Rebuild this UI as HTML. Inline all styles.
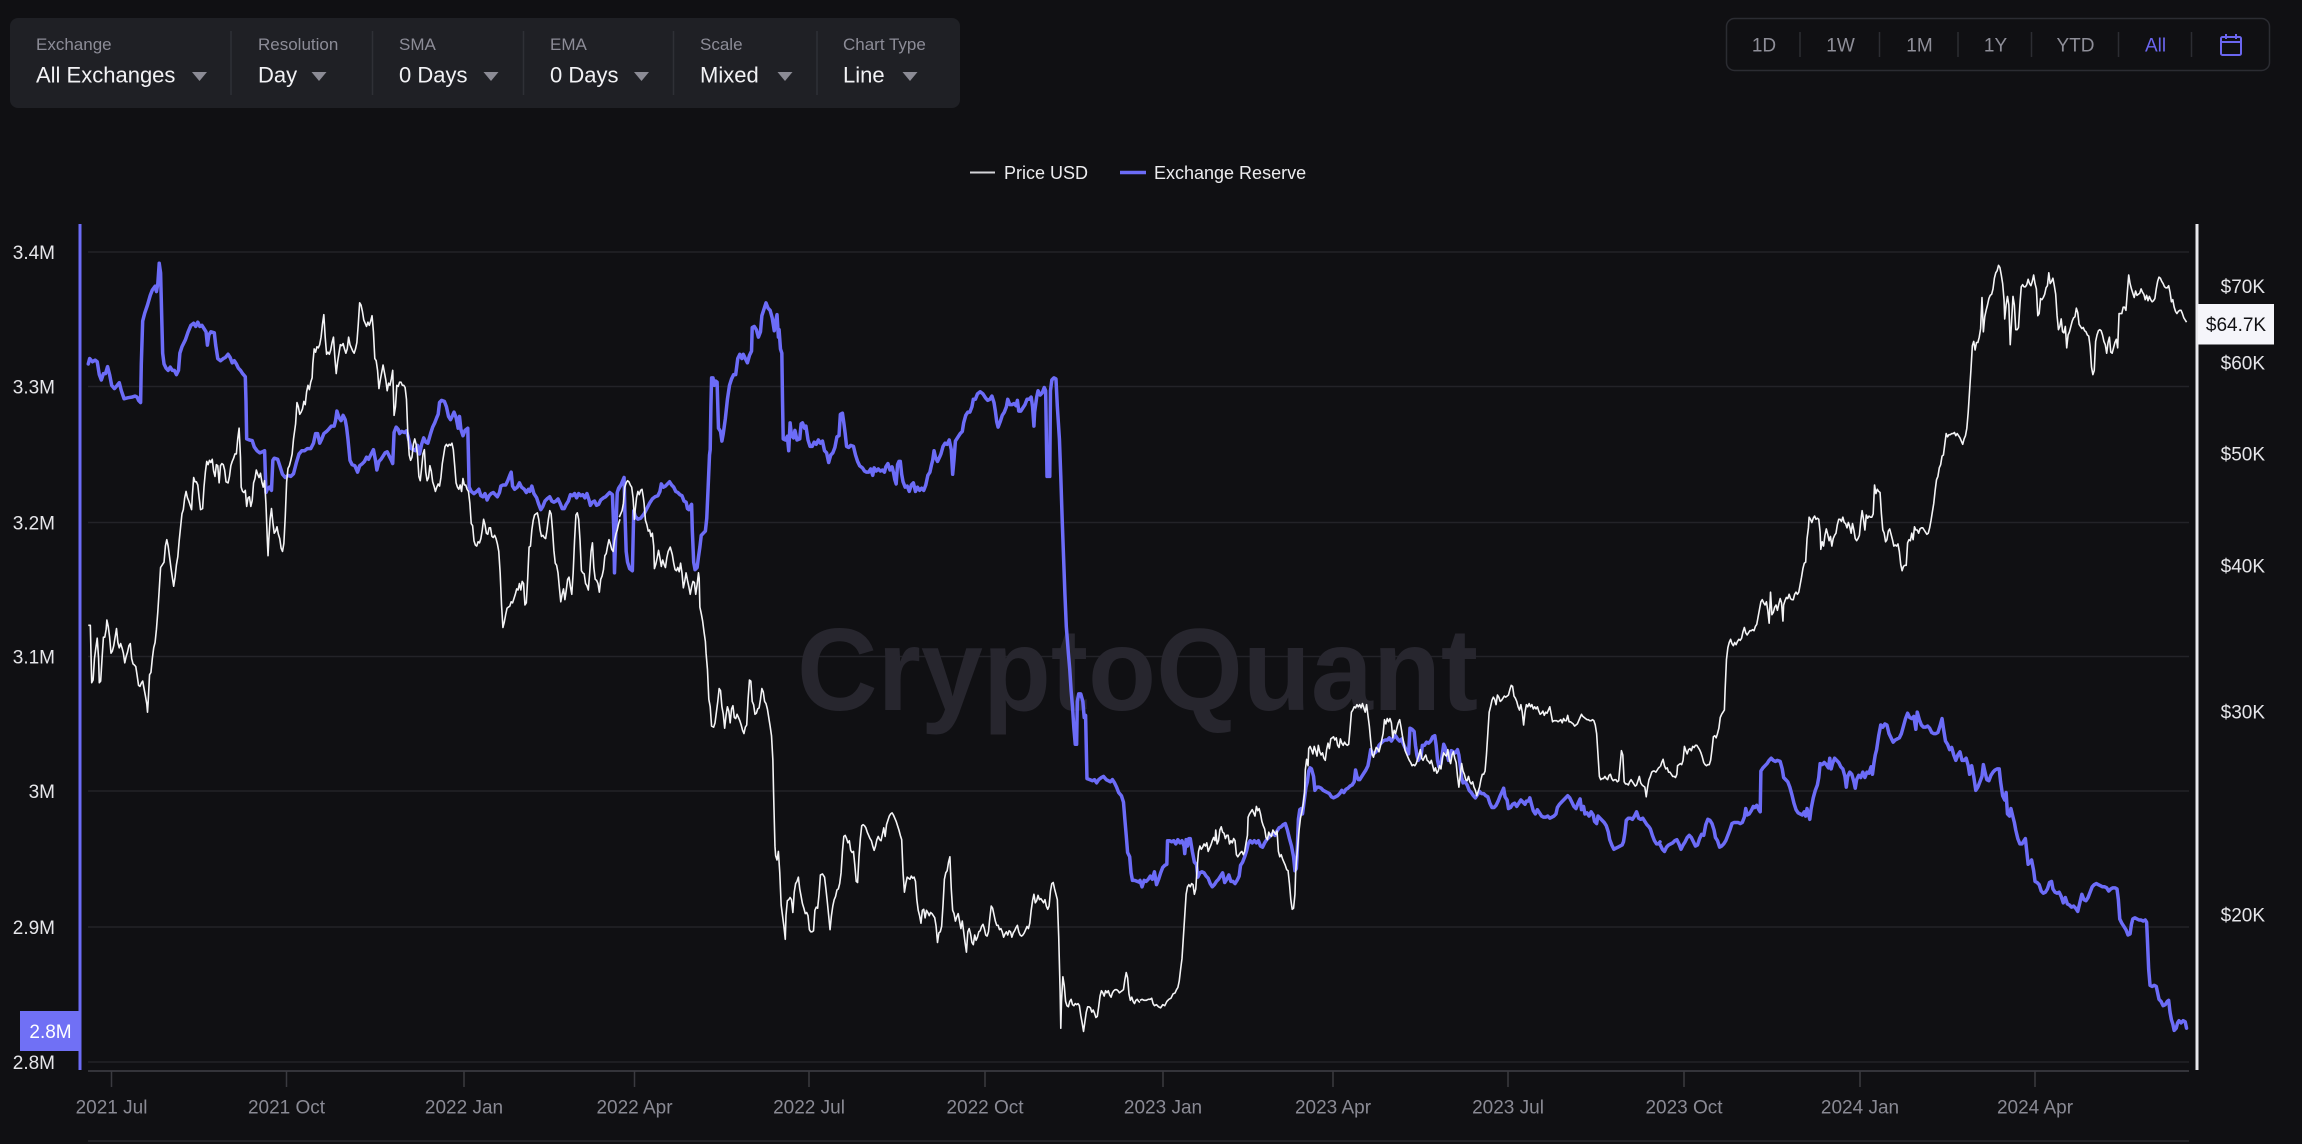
<!DOCTYPE html>
<html>
<head>
<meta charset="utf-8">
<style>
html,body{margin:0;padding:0;background:#101013;}
body{width:2302px;height:1144px;overflow:hidden;font-family:"Liberation Sans",Arial,sans-serif;}
svg{position:absolute;left:0;top:0;display:block;}
</style>
</head>
<body>
<svg width="2302" height="1144" viewBox="0 0 2302 1144" xmlns="http://www.w3.org/2000/svg" font-family="Liberation Sans, Arial, sans-serif">
  <rect x="0" y="0" width="2302" height="1144" fill="#101013"/>

  <!-- Top-left toolbar -->
  <rect x="10" y="18" width="950" height="90" rx="8" fill="#1f2025"/>
  <g font-size="17" fill="#8c8c97">
    <text x="36" y="50">Exchange</text>
    <text x="258" y="50">Resolution</text>
    <text x="399" y="50">SMA</text>
    <text x="550" y="50">EMA</text>
    <text x="700" y="50">Scale</text>
    <text x="843" y="50">Chart Type</text>
  </g>
  <g font-size="22" fill="#f2f2f5">
    <text x="36" y="82.5">All Exchanges</text>
    <text x="258" y="82.5">Day</text>
    <text x="399" y="82.5">0 Days</text>
    <text x="550" y="82.5">0 Days</text>
    <text x="700" y="82.5">Mixed</text>
    <text x="843" y="82.5">Line</text>
  </g>
  <g fill="#8b8b95">
    <polygon points="192,72 207,72 199.5,81"/>
    <polygon points="311.5,72 326.5,72 319,81"/>
    <polygon points="483.5,72 498.5,72 491,81"/>
    <polygon points="634,72 649,72 641.5,81"/>
    <polygon points="777.5,72 792.5,72 785,81"/>
    <polygon points="902.5,72 917.5,72 910,81"/>
  </g>
  <g stroke="#2f3036" stroke-width="1.5">
    <line x1="231" y1="31" x2="231" y2="95"/>
    <line x1="372.5" y1="31" x2="372.5" y2="95"/>
    <line x1="523.5" y1="31" x2="523.5" y2="95"/>
    <line x1="673.5" y1="31" x2="673.5" y2="95"/>
    <line x1="817" y1="31" x2="817" y2="95"/>
  </g>

  <!-- Top-right range selector -->
  <rect x="1726.5" y="18.5" width="543" height="52" rx="8" fill="none" stroke="#2b2c32" stroke-width="1.5"/>
  <g font-size="19" fill="#8e8e98" text-anchor="middle">
    <text x="1764" y="51.5">1D</text>
    <text x="1840.5" y="51.5">1W</text>
    <text x="1919.5" y="51.5">1M</text>
    <text x="1995.5" y="51.5">1Y</text>
    <text x="2075.5" y="51.5">YTD</text>
    <text x="2155.5" y="51.5" fill="#6b66f0">All</text>
  </g>
  <g stroke="#2c2d33" stroke-width="1.5">
    <line x1="1800" y1="32" x2="1800" y2="57"/>
    <line x1="1879.5" y1="32" x2="1879.5" y2="57"/>
    <line x1="1958" y1="32" x2="1958" y2="57"/>
    <line x1="2031.5" y1="32" x2="2031.5" y2="57"/>
    <line x1="2118.5" y1="32" x2="2118.5" y2="57"/>
    <line x1="2191.5" y1="32" x2="2191.5" y2="57"/>
  </g>
  <g stroke="#6b66f0" stroke-width="2" fill="none">
    <rect x="2221" y="37" width="20" height="18" rx="1.5"/>
    <line x1="2221" y1="42" x2="2241" y2="42"/>
    <line x1="2226" y1="34" x2="2226" y2="39"/>
    <line x1="2236" y1="34" x2="2236" y2="39"/>
  </g>

  <!-- Legend -->
  <line x1="970" y1="172.5" x2="995" y2="172.5" stroke="#d4d4d8" stroke-width="2"/>
  <text x="1004" y="179" font-size="18" fill="#ececef">Price USD</text>
  <line x1="1120" y1="172.5" x2="1146" y2="172.5" stroke="#6c6cf7" stroke-width="3.5"/>
  <text x="1154" y="179" font-size="18" fill="#ececef">Exchange Reserve</text>

  <!-- Gridlines -->
  <g stroke="#232328" stroke-width="1.5">
    <line x1="88" y1="252" x2="2189" y2="252"/>
    <line x1="88" y1="386.5" x2="2189" y2="386.5"/>
    <line x1="88" y1="522.5" x2="2189" y2="522.5"/>
    <line x1="88" y1="656.5" x2="2189" y2="656.5"/>
    <line x1="88" y1="791" x2="2189" y2="791"/>
    <line x1="88" y1="927" x2="2189" y2="927"/>
    <line x1="88" y1="1062" x2="2189" y2="1062"/>
  </g>

  <!-- Watermark -->
  <text x="797" y="710" font-size="117" font-weight="bold" fill="#27262e" textLength="681" lengthAdjust="spacingAndGlyphs">CryptoQuant</text>

  <!-- X axis -->
  <line x1="88" y1="1071" x2="2189" y2="1071" stroke="#34343a" stroke-width="2"/>
  <line x1="88" y1="1141" x2="2189" y2="1141" stroke="#2a2a2f" stroke-width="1.5"/>
  <g stroke="#3a3a40" stroke-width="1.5">
    <line x1="111.5" y1="1071" x2="111.5" y2="1087"/>
    <line x1="286.5" y1="1071" x2="286.5" y2="1087"/>
    <line x1="464" y1="1071" x2="464" y2="1087"/>
    <line x1="634.5" y1="1071" x2="634.5" y2="1087"/>
    <line x1="809" y1="1071" x2="809" y2="1087"/>
    <line x1="985" y1="1071" x2="985" y2="1087"/>
    <line x1="1163" y1="1071" x2="1163" y2="1087"/>
    <line x1="1333" y1="1071" x2="1333" y2="1087"/>
    <line x1="1508" y1="1071" x2="1508" y2="1087"/>
    <line x1="1684" y1="1071" x2="1684" y2="1087"/>
    <line x1="1860" y1="1071" x2="1860" y2="1087"/>
    <line x1="2035" y1="1071" x2="2035" y2="1087"/>
  </g>
  <g font-size="19" fill="#8a8a94" text-anchor="middle">
    <text x="111.5" y="1113.5">2021 Jul</text>
    <text x="286.5" y="1113.5">2021 Oct</text>
    <text x="464" y="1113.5">2022 Jan</text>
    <text x="634.5" y="1113.5">2022 Apr</text>
    <text x="809" y="1113.5">2022 Jul</text>
    <text x="985" y="1113.5">2022 Oct</text>
    <text x="1163" y="1113.5">2023 Jan</text>
    <text x="1333" y="1113.5">2023 Apr</text>
    <text x="1508" y="1113.5">2023 Jul</text>
    <text x="1684" y="1113.5">2023 Oct</text>
    <text x="1860" y="1113.5">2024 Jan</text>
    <text x="2035" y="1113.5">2024 Apr</text>
  </g>

  <!-- Left axis -->
  <line x1="80" y1="224" x2="80" y2="1070" stroke="#6c6cf7" stroke-width="3"/>
  <g font-size="19" fill="#e6e6ea" text-anchor="end">
    <text x="55" y="259">3.4M</text>
    <text x="55" y="393.5">3.3M</text>
    <text x="55" y="529.5">3.2M</text>
    <text x="55" y="663.5">3.1M</text>
    <text x="55" y="798">3M</text>
    <text x="55" y="934">2.9M</text>
    <text x="55" y="1069">2.8M</text>
  </g>
  <rect x="20" y="1011" width="60" height="40" fill="#7070f5"/>
  <text x="50.5" y="1038" font-size="19" fill="#ffffff" text-anchor="middle">2.8M</text>

  <!-- Right axis -->
  <line x1="2197" y1="224" x2="2197" y2="1070" stroke="#e8e8ec" stroke-width="3"/>
  <g font-size="19" fill="#e6e6ea" text-anchor="end">
    <text x="2265" y="293">$70K</text>
    <text x="2265" y="369.5">$60K</text>
    <text x="2265" y="460.5">$50K</text>
    <text x="2265" y="572.5">$40K</text>
    <text x="2265" y="718.5">$30K</text>
    <text x="2265" y="921.5">$20K</text>
  </g>
  <rect x="2198" y="304" width="76" height="40.5" fill="#f5f5fa"/>
  <text x="2236" y="331" font-size="19" fill="#111114" text-anchor="middle">$64.7K</text>

  <!-- Exchange Reserve (blue) -->
  <g fill="none" stroke="#6c6cf7" stroke-width="3.5" stroke-linejoin="round" stroke-linecap="round">
    <polyline vector-effect="non-scaling-stroke" transform="translate(80,230) scale(0.344388,0.535714)" points="24,250 28,240 36,246 44,243 50,246 56,270 62,280 68,268 74,268 80,255 86,270 92,290 100,296 108,290 114,285 120,300 128,315 140,313 150,312 160,310 166,312 170,318 176,322 178,250 182,170 188,155 196,140 204,122 210,112 218,105 222,115 226,100 230,62 234,80 238,180 240,230 244,250 250,258 256,262 262,256 268,262 274,262 280,270 286,262 290,230 296,218 306,205 314,190 322,178 330,174 336,180 342,172 348,180 354,178 360,184 366,190 370,215 374,196 380,190 390,192 394,215 400,240 408,244 416,240 422,238 430,232 436,238 442,248 448,244 454,250 460,258 466,262 472,268 480,274 482,320 484,390 492,392 500,393 506,405 514,412 522,416 530,414 536,412 540,490 544,484 550,480 556,486 560,430 564,426 574,428 580,440 588,456 596,462 604,458 612,460 620,455 628,435 636,418 644,412 652,412 660,408 670,408 678,398 684,380 690,380 696,398 702,390 708,380 716,376 722,372 730,366 738,366 742,356 746,338 752,350 758,356 764,346 770,354 774,368 778,390 784,430 790,438 798,440 806,452 812,440 820,436 826,432 832,424 838,428 844,420 852,410 858,430 862,448 868,432 874,428 880,422 886,416 892,414 898,422 904,430 908,436 912,378 918,368 924,372 928,380 934,376 942,378 948,375 952,384 958,400 962,408 968,410 974,412 980,402 986,418 992,400 998,388 1004,396 1010,398 1018,380 1024,368 1030,360 1036,350 1040,344 1044,322 1050,318 1058,320 1064,330 1070,348 1076,354 1082,346 1086,340 1092,350 1098,370 1102,348 1106,372 1112,384 1118,374 1126,370 1130,480 1136,488 1144,492 1152,488 1158,484 1164,496 1170,498 1176,492 1182,504 1188,496 1194,492 1200,490 1206,494 1212,498 1218,490 1222,478 1228,476 1236,476 1242,468 1248,458 1252,452 1256,478 1262,484 1270,480 1276,472 1282,480 1290,484 1296,490 1302,484 1306,488 1312,478 1318,492 1326,500 1332,512 1338,522 1344,516 1350,506 1356,502 1364,498 1370,506 1376,508 1382,506 1388,502 1394,510 1400,520 1406,520 1412,512 1418,506 1424,494 1430,496 1436,492 1442,500 1448,492 1454,496 1460,494 1466,500 1472,492 1478,504 1482,514 1488,508 1494,506 1500,514 1506,512 1512,504 1520,500 1526,498 1532,494 1538,490 1546,494 1550,560 1552,640 1556,560 1560,490 1564,482 1568,478"/>
    <polyline vector-effect="non-scaling-stroke" transform="translate(600,230) scale(0.344388,0.535714)" points="54,484 62,474 70,462 72,520 76,600 80,620 86,632 94,636 98,524 102,534 110,540 118,538 128,530 136,520 144,510 152,502 160,498 168,496 174,488 178,474 184,480 190,478 196,474 202,470 208,476 214,480 220,488 226,490 232,494 238,496 244,506 250,508 254,520 258,522 262,516 266,512 268,560 272,620 276,634 282,630 286,610 290,592 294,570 300,566 306,562 310,538 314,480 318,420 320,410 322,330 324,276 328,276 332,290 336,282 340,284 344,370 350,376 354,394 358,380 364,352 370,316 376,290 382,278 388,270 394,270 400,240 406,232 412,240 416,232 422,240 428,248 434,234 440,226 442,182 448,180 454,186 460,200 466,190 470,160 476,148 482,136 488,146 494,150 500,164 506,188 510,170 514,158 518,200 520,186 524,222 528,230 530,320 532,390 538,392 544,385 548,412 552,360 556,384 562,388 566,374 572,392 580,390 584,362 588,360 594,370 598,366 604,392 610,404 616,404 622,396 628,400 634,392 640,398 646,394 652,412 658,416 664,434 670,420 676,416 682,406 688,386 694,384 698,344 704,342 708,360 712,380 716,404 722,406 728,402 736,404 742,420 748,432 754,440 762,444 768,450 774,452 780,452 786,446 792,458 796,444 802,450 808,446 814,450 820,448 826,452 830,442 836,436 842,448 848,442 852,452 856,466 860,474 864,438 868,432 872,432 876,456 880,470 886,480 892,478 898,488 904,476 910,472 916,488 922,480 928,486 934,482 940,486 946,476 952,458 958,452 962,440 966,430 970,412 974,424 980,432 986,424 990,418 996,404 1002,398 1008,400 1014,392 1020,410 1024,456 1028,428 1032,394 1038,388 1046,380 1052,376 1056,360 1062,346 1068,340 1074,340 1080,330 1084,316 1090,316 1096,306 1104,302 1112,306 1120,314 1126,318 1132,316 1138,310 1144,322 1148,338 1152,358 1156,368 1162,358 1168,346 1174,340 1180,330 1184,316 1190,326 1196,326 1202,324 1208,328 1212,318 1216,338 1222,338 1228,332 1234,326 1240,316 1246,316 1252,312 1256,330 1260,366 1262,340 1268,312 1272,300 1278,308 1284,304 1290,294 1294,300 1298,460 1304,460 1306,460 1308,300 1312,280 1318,276 1324,278 1328,330 1334,390 1338,460 1342,540 1346,610 1350,680 1354,740 1360,790 1364,820 1368,860 1372,890 1376,930 1380,960 1384,960 1386,880 1390,866 1396,866 1402,880 1406,910 1410,906 1414,1024 1422,1026 1430,1028 1436,1026 1442,1032 1448,1026 1456,1022 1462,1020 1470,1026 1476,1028 1482,1030 1488,1026 1494,1032 1500,1040 1506,1050 1514,1056 1520,1068 1524,1100 1528,1130 1532,1162 1538,1170 1542,1200 1546,1214 1552,1214 1560,1216 1568,1218"/>
    <polyline vector-effect="non-scaling-stroke" transform="translate(1120,230) scale(0.344388,0.535714)" points="58,1214 64,1226 70,1214 76,1216 82,1212 88,1206 94,1212 100,1198 106,1222 112,1212 118,1200 124,1190 130,1186 136,1184 138,1140 144,1140 150,1142 156,1140 162,1146 168,1138 174,1144 180,1140 186,1150 188,1164 192,1138 196,1150 200,1136 204,1136 210,1160 216,1180 222,1184 226,1208 232,1200 238,1198 244,1200 250,1206 256,1210 262,1220 268,1226 274,1222 280,1216 286,1212 292,1206 298,1200 304,1218 310,1212 316,1204 322,1216 328,1216 334,1220 340,1214 346,1206 350,1186 356,1180 362,1170 368,1158 372,1146 378,1140 384,1144 390,1140 396,1144 402,1140 408,1150 414,1152 420,1144 426,1138 432,1134 438,1130 444,1126 450,1130 456,1122 462,1116 468,1114 474,1110 480,1108 486,1120 492,1136 498,1150 504,1170 508,1196 512,1192 514,1170 518,1100 522,1082 526,1080 530,1090 534,1070 540,1040 544,1030 548,1010 552,1004 556,1006 562,1020 566,1046 572,1040 578,1040 584,1042 590,1046 596,1048 602,1050 608,1052 614,1058 620,1060 626,1058 632,1056 638,1052 644,1046 650,1050 656,1044 662,1042 668,1038 674,1036 680,1030 684,1008 688,1020 692,1026 696,1026 702,1020 708,1014 714,1008 720,1000 724,986 728,970 734,978 740,976 746,972 752,962 758,958 764,954 770,952 776,952 782,948 788,954 794,948 800,944 806,950 812,954 818,950 822,958 826,964 832,972 838,978 842,930 848,932 854,936 858,962 862,980 866,990 870,986 874,982 878,962 884,962 890,956 896,958 902,954 908,946 914,944 918,962 922,990 926,1002 932,996 936,978 940,960 944,966 948,974 954,990 958,982 962,972 968,974 974,976 980,970 984,980 988,1000 992,1022 996,1032 1002,1030 1008,1036 1014,1046 1020,1050 1026,1056 1032,1060 1038,1054 1044,1048 1050,1052 1056,1052 1062,1056 1068,1058 1074,1070 1080,1078 1086,1078 1092,1074 1098,1066 1104,1056 1110,1048 1114,1042 1118,1058 1124,1064 1128,1080 1134,1078 1140,1072 1146,1070 1152,1076 1158,1070 1164,1064 1170,1068 1176,1072 1180,1066 1186,1066 1190,1060 1194,1070 1200,1084 1206,1090 1212,1082 1218,1088 1224,1094 1230,1096 1236,1096 1242,1094 1248,1098 1254,1096 1260,1094 1266,1090 1270,1078 1276,1072 1282,1068 1288,1064 1294,1060 1300,1056 1306,1060 1312,1068 1318,1076 1324,1080 1330,1070 1336,1062 1340,1082 1346,1076 1350,1090 1356,1088 1362,1094 1368,1086 1374,1092 1378,1104 1384,1108 1388,1094 1394,1098 1400,1102 1406,1106 1412,1112 1418,1124 1422,1138 1428,1148 1434,1156 1440,1154 1446,1152 1452,1150 1458,1148 1462,1142 1466,1126 1470,1102 1476,1098 1482,1098 1488,1100 1494,1094 1500,1086 1506,1098 1512,1100 1518,1098 1524,1104 1530,1110 1536,1114 1540,1118 1546,1130 1552,1140 1558,1146 1564,1146 1568,1142"/>
    <polyline vector-effect="non-scaling-stroke" transform="translate(1650,230) scale(0.344388,0.535714)" points="30,1148 36,1156 42,1160 48,1152 54,1148 60,1146 66,1144 72,1140 78,1138 84,1146 90,1156 96,1148 102,1142 108,1134 114,1130 120,1134 126,1142 132,1150 138,1148 144,1136 150,1128 156,1130 162,1110 168,1100 174,1102 180,1108 186,1120 190,1134 196,1140 202,1152 208,1150 214,1146 220,1140 226,1130 232,1120 238,1108 244,1106 250,1106 256,1106 262,1108 268,1106 274,1096 278,1080 282,1092 288,1090 294,1084 300,1076 304,1078 310,1074 316,1082 320,1086 322,1010 328,1004 334,1000 340,996 346,990 352,986 358,990 364,992 370,990 378,992 384,1006 388,1022 394,1026 400,1030 406,1040 412,1054 418,1070 424,1082 430,1088 436,1090 442,1092 448,1086 452,1094 456,1080 460,1090 464,1100 468,1080 474,1060 480,1046 486,1036 490,1022 494,996 500,998 506,994 512,998 518,1004 522,986 526,1006 530,996 536,986 542,990 548,994 554,1002 560,1006 566,1020 570,1040 574,1020 580,1012 586,1016 592,1030 596,1042 600,1026 606,1018 612,1022 618,1012 624,1022 630,1012 636,1014 642,1002 646,1016 650,996 654,980 658,970 664,944 670,924 676,928 682,922 688,924 694,940 700,948 706,956 712,952 718,950 724,948 730,940 736,926 742,912 748,902 754,910 760,912 766,908 772,932 776,900 782,914 788,924 794,928 800,928 806,926 812,930 818,938 824,940 830,940 836,938 842,926 848,912 852,930 858,954 864,960 870,970 876,966 882,980 888,990 894,980 900,974 906,990 912,990 918,986 924,1000 928,1016 934,1000 940,1020 946,1046 952,1040 958,1030 964,1020 968,998 972,1010 978,1026 984,1028 990,1018 996,1012 1002,1008 1008,1006 1014,1006 1018,1030 1024,1056 1030,1064 1034,1050 1038,1090 1044,1094 1048,1080 1054,1096 1058,1106 1062,1120 1068,1136 1074,1146 1080,1146 1086,1140 1090,1136 1094,1160 1098,1184 1104,1180 1108,1176 1114,1196 1118,1216 1124,1218 1130,1222 1136,1234 1142,1238 1148,1236 1154,1230 1160,1218 1166,1216 1170,1230 1176,1236 1182,1238 1188,1236 1194,1244 1200,1256 1206,1246 1212,1258 1218,1260 1224,1264 1230,1262 1236,1266 1242,1272 1248,1256 1254,1240 1260,1250 1266,1252 1272,1246 1278,1236 1284,1226 1290,1222 1296,1220 1302,1222 1308,1224 1314,1226 1320,1226 1326,1228 1332,1234 1338,1230 1344,1228 1350,1228 1356,1230 1360,1250 1364,1286 1370,1294 1376,1300 1382,1306 1388,1316 1394,1314 1398,1296 1402,1286 1408,1284 1414,1286 1420,1288 1426,1288 1432,1290 1438,1288 1442,1292 1444,1320 1448,1380 1452,1410 1458,1412 1464,1410 1470,1412 1474,1424 1478,1436 1484,1440 1490,1448 1496,1446 1502,1440 1506,1438 1510,1460 1514,1474 1518,1482 1522,1494 1528,1490 1532,1480 1536,1476 1542,1480 1548,1476 1554,1478 1558,1490"/>
  </g>

  <!-- Price USD (white) -->
  <g fill="none" stroke="#f4f4f6" stroke-width="1.6" stroke-linejoin="round">
    <polyline vector-effect="non-scaling-stroke" transform="translate(80,230) scale(0.344388,0.535714)" points="24,738 30,738 34,845 38,840 42,800 46,780 50,762 54,800 56,845 60,842 64,800 68,760 72,760 76,745 78,728 82,740 86,760 90,790 94,786 98,776 102,760 106,744 110,770 114,780 118,772 122,780 126,790 130,808 134,796 138,788 142,776 146,772 150,800 154,810 158,812 162,815 166,832 170,850 174,852 178,846 182,842 186,856 190,870 194,885 196,900 198,880 202,830 206,826 210,800 214,780 218,770 222,745 226,712 230,672 234,630 240,624 244,620 248,590 252,578 256,590 260,610 264,630 268,648 272,665 276,648 280,625 284,610 288,580 292,555 296,530 300,522 304,500 308,488 312,500 316,506 320,514 324,522 326,498 330,462 334,470 338,470 342,476 346,500 350,522 356,520 360,480 364,452 368,432 372,438 376,430 380,434 384,428 388,450 392,460 396,438 400,440 404,472 408,440 412,436 416,438 420,448 424,470 430,472 434,460 438,440 442,432 446,426 450,418 454,418 458,390 462,370 466,425 468,480 472,488 476,490 480,486 484,516 488,500 492,498 496,516 500,505 504,472 508,464 512,448 516,456 520,462 524,454 528,470 532,480 536,468 540,512 544,580 546,608 548,580 552,540 556,520 560,546 564,566 568,562 572,554 576,568 580,576 584,594 588,600 592,585 596,535 600,470 604,445 608,440 612,430 616,418 620,390 626,362 630,322 634,330 638,344 642,340 646,334 650,320 654,326 658,302 662,290 666,298 670,284 674,276 676,250 680,222 684,228 688,218 692,220 696,214 700,200 704,176 708,158 712,200 716,232 720,228 724,232 728,224 732,210 736,200 740,238 744,268 748,246 752,230 756,214 760,216 764,212 768,222 772,230 776,222 780,200 784,214 788,220 792,226 796,230 800,222 804,210 808,176 812,136 816,140 820,152 824,168 828,174 832,180 836,172 840,178 844,170 848,160 852,190 856,240 860,244 864,262 868,296 872,280 876,266 880,252 884,266 888,280 892,300 896,286 900,290 904,278 908,262 912,346 916,330 920,290 924,292 928,284 932,284 936,290 940,290 944,294 948,316 952,382 956,420 960,430 964,424 968,400 972,390 976,400 980,420 984,460 988,468 992,444 996,418 1000,410 1004,452 1008,468 1012,462 1016,440 1020,450 1024,470 1028,478 1032,488 1036,480 1040,474 1044,478 1048,462 1052,436 1056,420 1060,404 1064,400 1068,404 1072,400 1076,402 1080,398 1084,410 1088,440 1092,472 1096,480 1100,484 1104,476 1108,488 1112,464 1116,476 1120,476 1124,484 1128,488 1132,510 1136,548 1140,552 1144,580 1148,588 1152,590 1156,582 1160,584 1164,576 1168,560 1172,540 1176,550 1180,566 1184,568 1188,556 1192,556 1196,572 1200,574 1204,570 1208,576 1212,586 1216,600 1220,640 1224,700 1228,742 1232,732 1236,718 1240,706 1244,704 1248,702 1252,694 1256,696 1260,688 1264,680 1268,670 1272,672 1276,660 1280,672 1284,656 1288,660 1292,700 1296,696 1300,650 1304,592 1308,590 1312,560 1316,542 1320,532 1324,530 1328,528 1332,540 1336,560 1340,572 1344,570 1348,574 1352,576 1356,560 1360,540 1364,524 1368,530 1372,560 1376,598 1380,622 1384,626 1388,640 1392,668 1396,694 1400,680 1404,670 1408,690 1412,672 1416,652 1420,648 1424,666 1428,680 1432,640 1436,580 1440,532 1444,528 1448,540 1452,580 1456,636 1460,640 1464,642 1468,660 1472,664 1476,672 1480,640 1484,600 1488,584 1492,630 1496,652 1500,654 1504,660 1508,676 1512,652 1516,646 1520,634 1524,608 1528,604 1532,590 1536,578 1540,586 1544,596 1548,600 1552,580 1556,568 1560,560 1564,548 1568,540"/>
    <polyline vector-effect="non-scaling-stroke" transform="translate(600,230) scale(0.344388,0.535714)" points="56,536 60,530 64,524 68,510 72,480 76,472 80,468 84,470 88,476 92,480 96,500 100,540 102,524 106,500 110,488 114,494 118,486 122,484 126,500 128,510 132,542 136,550 140,562 144,560 148,572 152,566 156,590 158,632 162,624 166,612 170,598 174,612 178,628 182,616 186,624 190,630 194,612 198,600 204,592 210,606 214,622 218,634 222,636 226,630 230,638 234,622 238,640 242,668 246,656 250,640 254,654 258,666 262,680 266,666 270,656 274,658 278,680 282,662 286,640 288,650 290,704 294,716 298,730 302,750 306,768 308,790 312,820 316,876 320,890 324,926 330,928 334,920 338,900 342,880 346,856 350,860 354,890 358,904 362,930 366,906 370,890 374,898 378,920 382,894 386,888 390,910 394,912 398,904 402,910 406,916 410,924 414,934 418,940 422,928 426,924 430,876 434,840 438,842 442,880 446,886 450,904 454,902 458,894 462,892 466,876 470,856 474,862 478,880 482,884 486,894 490,910 494,926 498,944 502,990 504,1050 506,1100 508,1150 510,1168 514,1176 518,1160 522,1200 526,1260 530,1280 534,1300 538,1324 540,1280 544,1252 548,1250 552,1246 556,1250 560,1274 564,1236 568,1220 572,1216 576,1208 580,1230 584,1244 588,1258 592,1266 596,1276 600,1274 604,1280 608,1306 612,1310 616,1310 620,1308 624,1270 628,1264 632,1266 636,1240 640,1204 646,1202 652,1208 656,1230 660,1254 664,1280 668,1306 672,1280 676,1262 680,1250 684,1244 688,1232 692,1230 696,1220 700,1200 704,1160 708,1132 712,1130 716,1136 720,1144 724,1140 728,1158 732,1162 736,1160 740,1186 744,1216 748,1218 752,1170 756,1136 760,1112 764,1110 768,1112 772,1116 776,1124 780,1130 784,1136 788,1140 792,1150 796,1158 800,1150 804,1138 808,1132 812,1138 816,1140 820,1128 824,1116 828,1132 832,1110 836,1102 840,1094 844,1090 848,1088 852,1092 856,1098 860,1104 864,1112 868,1120 872,1130 876,1138 880,1200 884,1236 888,1220 892,1208 896,1210 900,1212 904,1206 908,1210 912,1208 916,1216 920,1250 924,1270 928,1280 932,1294 936,1270 940,1268 944,1284 948,1270 952,1274 956,1280 960,1274 964,1276 968,1280 972,1284 976,1300 980,1330 984,1312 988,1310 992,1300 996,1260 1000,1212 1004,1200 1008,1196 1012,1180 1016,1170 1018,1200 1020,1230 1024,1270 1028,1276 1032,1290 1036,1282 1040,1276 1044,1290 1048,1304 1052,1290 1056,1310 1060,1330 1064,1348 1068,1310 1072,1304 1076,1314 1080,1330 1084,1334 1088,1316 1092,1326 1096,1320 1100,1310 1104,1308 1108,1300 1112,1296 1116,1304 1120,1316 1124,1318 1128,1310 1132,1284 1136,1262 1140,1266 1144,1278 1148,1290 1152,1298 1156,1298 1160,1306 1164,1304 1168,1310 1172,1320 1176,1314 1180,1310 1184,1316 1188,1308 1192,1310 1196,1320 1200,1312 1204,1308 1208,1302 1212,1298 1216,1310 1220,1316 1224,1318 1228,1316 1232,1312 1236,1306 1240,1300 1244,1304 1248,1294 1252,1270 1256,1252 1260,1240 1264,1256 1268,1252 1272,1242 1276,1250 1280,1248 1284,1252 1288,1256 1292,1250 1296,1262 1300,1268 1304,1262 1308,1234 1312,1220 1316,1218 1320,1230 1324,1240 1328,1250 1332,1320 1336,1420 1338,1490 1340,1440 1344,1394 1348,1410 1352,1440 1356,1448 1360,1450 1364,1440 1368,1436 1372,1446 1376,1448 1380,1444 1384,1446 1388,1444 1392,1448 1396,1466 1400,1480 1404,1496 1408,1478 1412,1460 1416,1450 1420,1450 1424,1452 1428,1460 1432,1456 1436,1462 1440,1470 1444,1468 1448,1450 1452,1430 1456,1420 1460,1424 1464,1430 1468,1420 1472,1424 1476,1420 1480,1428 1484,1432 1488,1424 1492,1420 1496,1418 1500,1418 1504,1420 1508,1424 1512,1422 1516,1420 1520,1418 1524,1400 1528,1386 1532,1396 1536,1426 1540,1438 1544,1432 1548,1440 1552,1444 1556,1438 1560,1436 1564,1440 1568,1442"/>
    <polyline vector-effect="non-scaling-stroke" transform="translate(1120,230) scale(0.344388,0.535714)" points="58,1438 64,1436 70,1438 76,1438 82,1436 88,1436 92,1434 96,1444 100,1448 106,1446 112,1450 118,1452 124,1446 130,1448 136,1440 142,1436 148,1434 154,1426 160,1424 164,1418 168,1414 172,1402 176,1380 180,1360 184,1320 188,1280 192,1240 196,1226 200,1222 204,1226 208,1220 212,1222 216,1240 220,1230 224,1190 228,1160 232,1150 236,1156 240,1152 244,1146 248,1150 252,1144 256,1160 260,1154 264,1148 268,1140 272,1134 276,1140 278,1120 282,1146 286,1140 290,1120 294,1114 298,1124 302,1126 306,1136 310,1130 314,1130 318,1146 322,1140 326,1144 330,1136 334,1140 338,1166 342,1170 346,1166 350,1162 354,1160 358,1166 362,1160 366,1144 370,1130 372,1096 376,1090 380,1086 384,1082 388,1088 392,1094 396,1076 400,1084 404,1080 408,1090 412,1104 416,1112 420,1118 424,1134 428,1138 432,1124 436,1130 440,1132 444,1120 448,1124 452,1128 456,1122 460,1160 464,1170 468,1166 472,1174 476,1180 480,1186 484,1194 488,1196 492,1220 496,1250 500,1268 504,1266 508,1240 510,1200 512,1180 516,1150 520,1120 524,1098 528,1086 532,1072 536,1050 538,1008 542,988 546,1000 548,968 552,964 556,970 560,978 564,964 568,972 572,982 576,962 580,974 584,980 588,976 592,986 596,990 600,970 604,958 608,968 612,950 616,948 620,946 624,952 628,948 632,962 636,966 640,950 644,958 648,962 652,956 656,960 660,962 664,960 668,932 672,900 676,896 680,890 684,892 688,886 692,890 696,886 700,892 704,884 708,892 712,900 716,886 720,906 724,926 728,954 732,978 736,984 740,974 744,966 748,968 752,974 756,964 760,952 764,940 768,914 772,922 776,912 780,918 784,912 788,920 792,948 796,934 800,940 804,930 808,920 812,914 816,928 820,944 824,958 828,972 832,978 836,984 840,990 844,994 848,1000 852,998 856,1000 860,996 864,988 868,980 872,970 876,986 880,990 884,984 888,980 892,990 896,992 900,996 904,990 908,1000 912,1010 916,1004 920,1014 924,1010 928,1000 932,1006 936,986 940,976 944,980 948,982 952,970 956,988 960,996 964,980 968,974 972,986 976,994 980,1020 984,1040 988,1018 992,996 996,1010 1000,1016 1004,1026 1008,1028 1012,1020 1016,1030 1020,1034 1024,1030 1028,1040 1032,1046 1036,1056 1040,1048 1044,1040 1048,1026 1052,1016 1056,1016 1060,1010 1064,980 1068,940 1072,900 1076,890 1080,878 1084,872 1088,876 1092,886 1096,868 1100,872 1104,880 1108,878 1112,874 1116,870 1120,872 1124,870 1128,868 1132,858 1136,850 1140,852 1144,870 1148,874 1152,880 1156,890 1160,896 1164,886 1168,900 1172,924 1176,900 1180,886 1184,890 1188,884 1192,890 1196,886 1200,894 1204,890 1208,894 1212,890 1216,898 1220,904 1224,902 1228,898 1232,906 1236,900 1240,902 1244,896 1248,890 1252,904 1256,918 1260,916 1264,916 1268,916 1272,918 1276,916 1280,914 1284,920 1288,912 1292,916 1296,916 1300,906 1304,918 1308,918 1312,920 1316,922 1320,926 1324,924 1328,922 1332,916 1336,910 1340,904 1344,908 1348,910 1352,912 1356,914 1360,914 1364,916 1368,916 1372,914 1376,916 1380,924 1384,940 1388,980 1392,1020 1396,1026 1400,1024 1404,1024 1408,1020 1412,1024 1416,1026 1420,1018 1424,1016 1428,1024 1432,1028 1436,1026 1440,1026 1444,1030 1448,1028 1452,1000 1456,972 1460,980 1464,1030 1468,1034 1472,1034 1476,1036 1480,1030 1484,1026 1488,1030 1492,1034 1496,1038 1500,1036 1504,1028 1508,1020 1512,1032 1516,1036 1520,1038 1524,1040 1528,1058 1532,1040 1536,1026 1540,1020 1544,1012 1548,1010 1552,1010 1556,1012 1560,1008 1564,1004 1568,1002"/>
    <polyline vector-effect="non-scaling-stroke" transform="translate(1650,230) scale(0.344388,0.535714)" points="30,1002 34,994 38,988 42,1000 46,1006 50,1004 54,1012 58,1012 62,1016 66,1020 70,1020 74,1022 78,1016 80,1000 84,998 88,996 92,998 96,990 100,964 104,972 108,978 112,970 116,968 120,972 124,964 128,966 132,962 136,962 140,966 144,970 148,976 152,984 156,994 160,998 164,1000 168,998 172,998 176,990 180,970 184,946 188,944 192,948 196,940 200,930 204,910 208,904 212,900 216,896 218,860 222,802 226,780 230,770 234,764 238,772 242,776 246,770 250,774 254,768 258,764 262,766 266,762 270,750 274,742 278,752 282,756 286,752 290,748 294,748 298,746 302,748 306,740 310,736 314,722 318,708 322,694 326,690 330,696 334,700 338,694 342,710 346,734 350,676 354,718 358,714 362,704 366,700 370,710 374,698 378,688 382,696 386,730 388,700 392,692 396,686 400,688 404,680 408,688 412,690 416,690 420,680 424,676 428,680 432,676 436,662 440,648 444,632 448,622 452,620 456,576 460,556 462,536 466,540 470,546 474,538 478,534 482,540 486,538 490,540 494,564 496,596 500,582 504,590 508,570 512,558 516,568 520,580 524,572 528,590 532,576 536,570 540,566 544,550 548,540 552,540 556,544 560,536 564,546 568,548 572,556 576,546 580,554 584,566 588,548 592,560 596,576 600,580 604,576 608,570 612,544 616,524 620,540 624,560 628,532 632,538 636,534 640,536 644,536 648,530 652,476 656,492 660,484 664,488 668,490 672,530 676,560 680,566 684,582 688,578 692,562 696,558 700,568 704,578 708,590 712,588 716,590 720,586 724,600 728,624 732,636 736,628 740,626 744,626 748,584 752,578 756,580 760,566 764,578 768,554 772,560 776,560 780,566 784,558 788,556 792,556 796,560 800,564 804,568 808,566 812,556 816,542 820,526 824,510 828,486 832,466 836,460 840,444 844,438 848,422 852,420 856,400 860,380 864,386 868,382 872,382 876,380 880,380 884,378 888,384 892,380 896,384 900,388 904,394 908,400 912,390 916,384 920,370 924,340 928,300 932,260 936,216 940,208 944,224 948,210 952,210 956,200 960,184 964,126 968,190 972,162 976,150 980,140 984,128 988,122 992,120 996,110 1000,90 1004,80 1008,76 1012,66 1016,70 1020,84 1024,100 1028,130 1030,166 1034,140 1038,124 1042,140 1046,214 1050,170 1054,124 1058,140 1062,186 1066,186 1070,182 1074,140 1078,106 1082,102 1086,106 1090,106 1094,102 1098,92 1102,100 1106,104 1110,96 1114,84 1118,100 1122,110 1126,160 1130,156 1134,128 1138,130 1142,126 1146,120 1150,108 1154,104 1158,80 1162,100 1166,96 1170,90 1174,104 1178,120 1182,160 1186,186 1190,180 1194,166 1198,190 1202,192 1206,180 1210,220 1214,196 1218,190 1222,180 1226,170 1230,164 1234,162 1238,146 1242,154 1246,176 1250,180 1254,184 1258,182 1262,188 1266,190 1270,196 1274,198 1278,218 1282,256 1286,270 1290,262 1294,208 1298,196 1302,188 1306,186 1310,188 1314,196 1318,208 1322,214 1326,230 1330,210 1334,200 1338,228 1342,230 1346,220 1350,210 1354,204 1358,220 1362,156 1366,156 1370,156 1374,144 1378,144 1382,150 1386,116 1390,84 1394,100 1398,110 1402,118 1406,126 1410,114 1414,122 1418,120 1422,118 1426,110 1430,116 1434,120 1438,130 1442,122 1446,132 1450,124 1454,130 1458,134 1462,132 1466,128 1470,110 1474,96 1478,88 1482,90 1486,96 1490,100 1494,106 1498,108 1502,108 1506,104 1510,116 1514,134 1518,130 1522,144 1526,152 1530,156 1534,152 1538,150 1542,150 1546,156 1550,164 1554,168 1558,172"/>
  </g>
</svg>
</body>
</html>
